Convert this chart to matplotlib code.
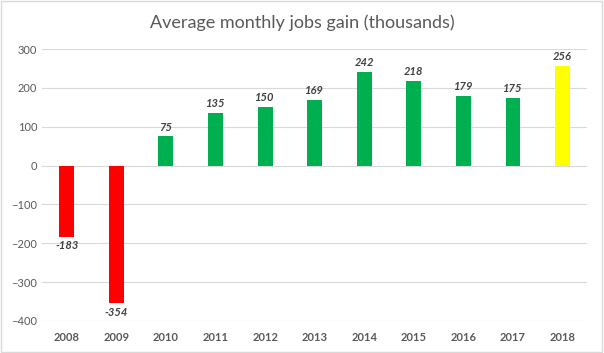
import matplotlib.pyplot as plt
from matplotlib.patches import Rectangle

years = ['2008', '2009', '2010', '2011', '2012', '2013', '2014', '2015',
         '2016', '2017', '2018']
jobs_gain = [-183, -354, 75, 135, 150, 169, 242, 218, 179, 175, 256]
bar_colors = ['#FF0000', '#FF0000', '#00B050', '#00B050', '#00B050', '#00B050',
              '#00B050', '#00B050', '#00B050', '#00B050', '#FFFF00']

plt.rcParams['font.family'] = ['Lato', 'DejaVu Sans']
text_color = '#595959'

fig = plt.figure(figsize=(6.04, 3.53), dpi=100)
ax = fig.add_axes([0.0695, 0.091, 0.903, 0.77])

x = range(len(years))
ax.bar(x, jobs_gain, width=0.3, color=bar_colors, zorder=3)

for i, v in enumerate(jobs_gain):
    if v >= 0:
        ax.text(i, v + 10, str(v), ha='center', va='bottom', fontsize=8,
                fontweight='bold', fontstyle='italic', color='#404040')
    else:
        ax.text(i, v - 10, str(v), ha='center', va='top', fontsize=8,
                fontweight='bold', fontstyle='italic', color='#404040')

ax.set_xlim(-0.5, len(years) - 0.5)
ax.set_ylim(-400, 300)
ax.set_yticks(range(-400, 301, 100))
ax.set_xticks(list(x))
ax.set_xticklabels(years, fontweight='bold')
ax.grid(axis='y', color='#D9D9D9', linewidth=0.8, zorder=0)
ax.tick_params(axis='both', length=0, colors=text_color, labelsize=8)
ax.tick_params(axis='x', pad=8)
for s in ax.spines.values():
    s.set_visible(False)

fig.text(0.5, 0.935, 'Average monthly jobs gain (thousands)', ha='center',
         va='center', fontsize=13, color=text_color)
fig.patches.append(Rectangle((0.002, 0.003), 0.995, 0.994, transform=fig.transFigure,
                             fill=False, edgecolor='#D9D9D9', linewidth=1))

fig.savefig('out.png', dpi=100)
